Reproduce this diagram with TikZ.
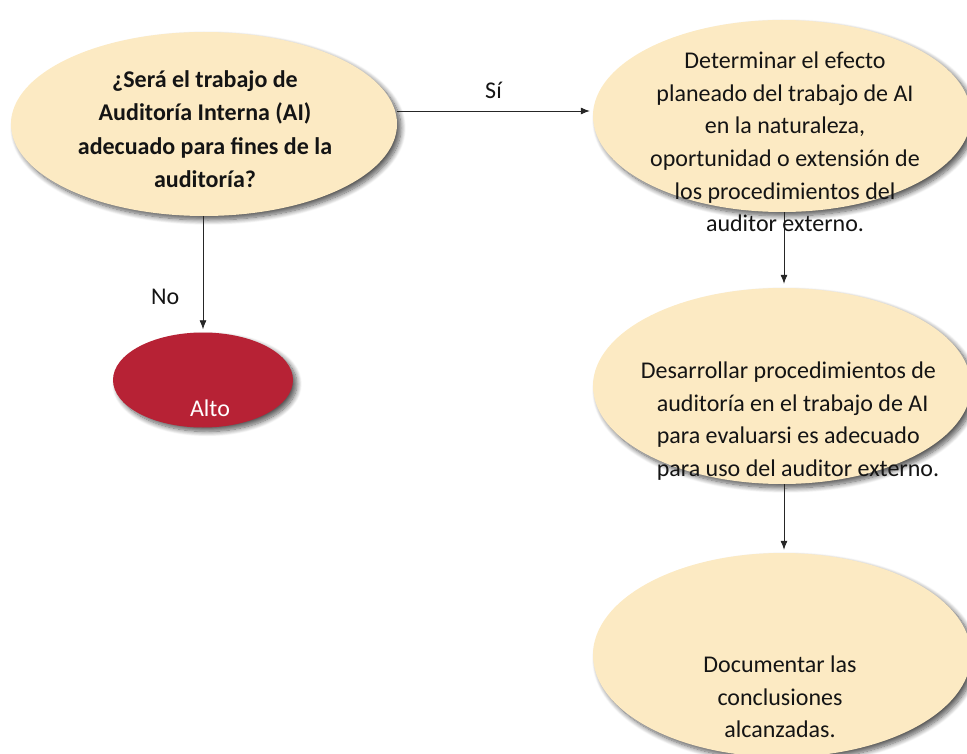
\documentclass[tikz,border=0pt]{standalone}
\usepackage{fontspec}
\setmainfont{Carlito}
\usetikzlibrary{shapes.geometric,arrows.meta,shadows.blur}

\definecolor{creamfill}{HTML}{FCEAC3}
\definecolor{stopred}{HTML}{B72235}

\tikzset{
  bubble/.style={ellipse, fill=creamfill, inner sep=0pt,
    blur shadow={shadow xshift=4pt, shadow yshift=-4pt,
      shadow blur radius=5pt, shadow blur steps=10, shadow opacity=65}},
  stopbubble/.style={bubble, fill=stopred},
  bodytext/.style={align=center, font=\fontsize{24}{32.6}\selectfont, text=black!92},
  flow/.style={draw=black!85, line width=0.8pt, -{Latex[length=9pt,width=7pt]}},
  edgelabel/.style={font=\fontsize{24}{28}\selectfont, text=black!92}
}

\begin{document}
\begin{tikzpicture}[x=1pt,y=-1pt]
  \useasboundingbox (0,0) rectangle (967,754);

  % shapes
  \node[bubble, minimum width=386pt, minimum height=184pt] (q) at (204,124) {};
  \node[bubble, minimum width=378pt, minimum height=192pt] (plan) at (782,116) {};
  \node[bubble, minimum width=378pt, minimum height=196pt] (proc) at (782,386) {};
  \node[bubble, minimum width=378pt, minimum height=204pt] (doc) at (782,655) {};
  \node[stopbubble, minimum width=180pt, minimum height=95pt] (alto) at (203,380) {};

  % connectors
  \coordinate (yes) at (0,111);
  \draw[flow] (q.east |- yes) -- ([xshift=-3pt]plan.west |- yes)
    node[edgelabel, midway, above=9pt] (si) {Sí};
  \draw[flow] (q.south -| alto.north) -- ([yshift=3pt]alto.north)
    node[edgelabel, pos=0.71, left=20pt] (no) {No};
  \draw[flow] ([xshift=2pt]plan.south) -- ([xshift=2pt,yshift=4pt]proc.north);
  \draw[flow] ([xshift=2pt]proc.south) -- ([xshift=2pt,yshift=3pt]doc.north);

  % texts
  \node[bodytext, font=\bfseries\fontsize{24}{33.4}\selectfont] (qt) at (205,129)
    {¿Será el trabajo de\\Auditoría Interna (AI)\\adecuado para fines de la\\auditoría?};
  \node[bodytext] (plant) at (785,142)
    {Determinar el efecto\\planeado del trabajo de AI\\en la naturaleza,\\oportunidad o extensión de\\los procedimientos del\\auditor externo.};
  \node[bodytext, align=left] (proct) at (790,421)
    {Desarrollar procedimientos de\\\hspace*{16pt}auditoría en el trabajo de AI\\\hspace*{16pt}para evaluarsi es adecuado\\\hspace*{16pt}para uso del auditor externo.};
  \node[bodytext] (doct) at (780,697)
    {Documentar las\\conclusiones\\alcanzadas.};
  \node[font=\fontsize{24}{28}\selectfont, text=white] (altot) at (210,408) {Alto};
\end{tikzpicture}
\end{document}
